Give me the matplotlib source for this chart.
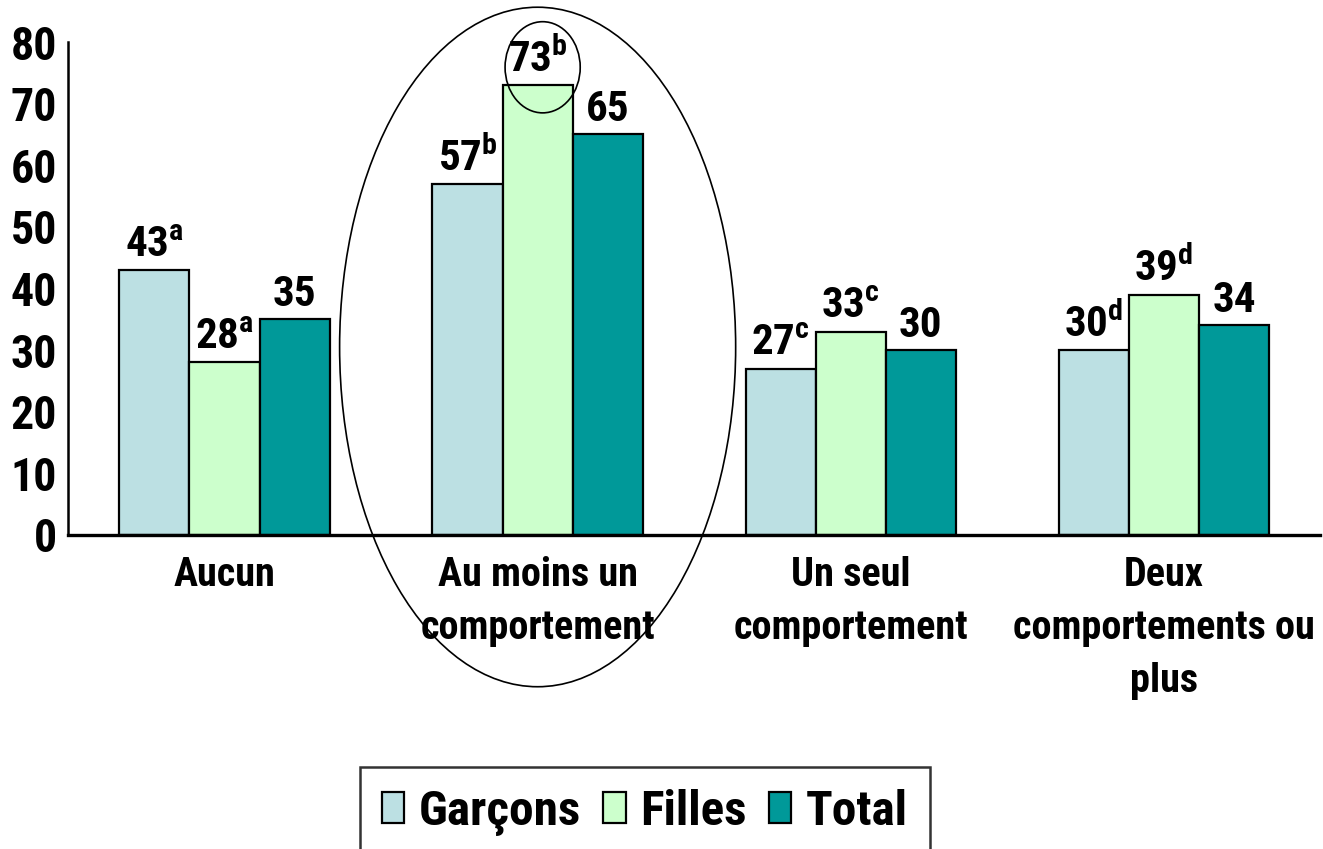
import numpy as np
import matplotlib
matplotlib.use("Agg")
import matplotlib.pyplot as plt
from matplotlib.patches import Ellipse

# data
categories = ["Aucun", "Au moins un\ncomportement", "Un seul\ncomportement",
              "Deux\ncomportements ou\nplus"]
series = ["Garçons", "Filles", "Total"]
garcons = [43, 57, 27, 30]
filles = [28, 73, 33, 39]
total = [35, 65, 30, 34]
sup_garcons = ["a", "b", "c", "d"]
sup_filles = ["a", "b", "c", "d"]
sup_total = ["", "", "", ""]
colors = ["#BCE0E3", "#CCFFCC", "#009999"]
yticks = [0, 10, 20, 30, 40, 50, 60, 70, 80]

FONT = 'Roboto Condensed'
plt.rcParams['font.family'] = [FONT, 'Liberation Sans', 'DejaVu Sans']
plt.rcParams['font.weight'] = 'bold'
plt.rcParams['mathtext.fontset'] = 'custom'
plt.rcParams['mathtext.rm'] = FONT + ':bold'
plt.rcParams['mathtext.default'] = 'regular'

fig = plt.figure(figsize=(13.23, 8.49), dpi=100)
ax = fig.add_axes([0.0514, 0.370, 0.9466, 0.5805])

x = np.arange(len(categories))
width = 0.224
values = [garcons, filles, total]
sups = [sup_garcons, sup_filles, sup_total]

for i, (vals, sp) in enumerate(zip(values, sups)):
    pos = x + (i - 1) * width
    ax.bar(pos, vals, width, color=colors[i], edgecolor="black",
           linewidth=1.6, label=series[i], zorder=2)
    for px, v, s in zip(pos, vals, sp):
        lab = str(v) if s == "" else str(v) + "$^{" + s + "}$"
        ax.annotate(lab, (px, v), xytext=(0, 3), textcoords="offset points",
                    ha="center", va="bottom", fontsize=31, fontweight="bold")

ax.set_xlim(-0.5, 3.5)
ax.set_ylim(0, 80)
ax.set_yticks(yticks)
ax.set_yticklabels([str(t) for t in yticks], fontsize=33, fontweight="bold")
ax.set_xticks(x)
ax.set_xticklabels(categories, fontsize=29, fontweight="bold", linespacing=1.5)
ax.tick_params(axis="both", length=0)
ax.tick_params(axis="y", pad=8)
ax.tick_params(axis="x", pad=15)
for side in ["top", "right"]:
    ax.spines[side].set_visible(False)
ax.spines["left"].set_linewidth(1.8)
ax.spines["bottom"].set_linewidth(2.4)

# highlight ellipses around "Au moins un comportement"
ax.add_patch(Ellipse((1, 30.5), 1.265, 110.3, fill=False, edgecolor="black",
                     linewidth=1.2, clip_on=False, zorder=3))
ax.add_patch(Ellipse((1.016, 75.9), 0.24, 14.8, fill=False, edgecolor="black",
                     linewidth=1.2, clip_on=False, zorder=3))

leg = fig.legend(loc="upper center", bbox_to_anchor=(0.4875, 0.0966), ncol=3,
                 frameon=True, fancybox=False, edgecolor="black",
                 handlelength=0.45, handleheight=0.6, handletextpad=0.3,
                 columnspacing=0.45, borderpad=0.45, borderaxespad=0,
                 prop={"weight": "bold", "size": 35.5})
leg.get_frame().set_linewidth(1.8)

fig.savefig("out.png", dpi=100)
